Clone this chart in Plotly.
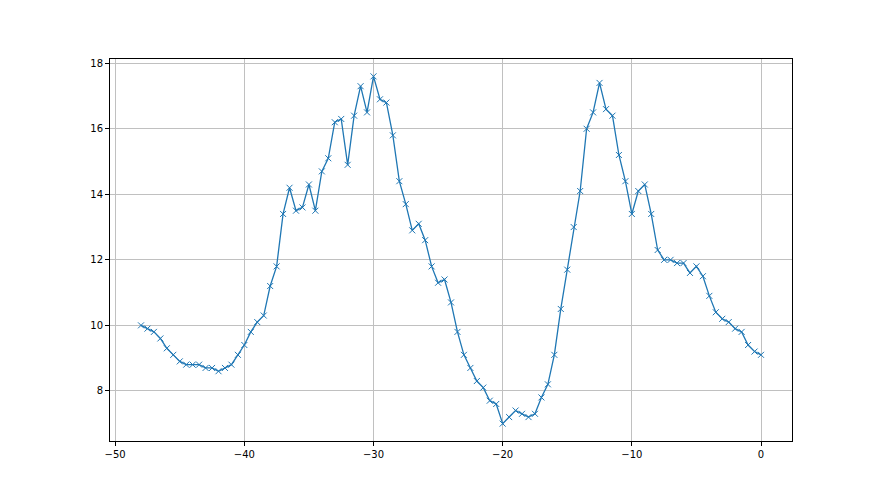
import numpy as np
import plotly.graph_objects as go

x_vals = np.arange(-48, 0.5, 0.5)
y_vals = [
    10.0, 9.9, 9.8, 9.6, 9.3, 9.1, 8.9, 8.8, 8.8, 8.8,
    8.7, 8.7, 8.6, 8.7, 8.8, 9.1, 9.4, 9.8, 10.1, 10.3,
    11.2, 11.8, 13.4, 14.2, 13.5, 13.6, 14.3, 13.5, 14.7, 15.1,
    16.2, 16.3, 14.9, 16.4, 17.3, 16.5, 17.6, 16.9, 16.8, 15.8,
    14.4, 13.7, 12.9, 13.1, 12.6, 11.8, 11.3, 11.4, 10.7, 9.8,
    9.1, 8.7, 8.3, 8.1, 7.7, 7.6, 7.0, 7.2, 7.4, 7.3,
    7.2, 7.3, 7.8, 8.2, 9.1, 10.5, 11.7, 13.0, 14.1, 16.0,
    16.5, 17.4, 16.6, 16.4, 15.2, 14.4, 13.4, 14.1, 14.3, 13.4,
    12.3, 12.0, 12.0, 11.9, 11.9, 11.6, 11.8, 11.5, 10.9, 10.4,
    10.2, 10.1, 9.9, 9.8, 9.4, 9.2, 9.1,
]
x_ticks = [-50, -40, -30, -20, -10, 0]
y_ticks = [8, 10, 12, 14, 16, 18]


def tick_text(vals):
    return [str(v).replace('-', '\u2212') for v in vals]


fig = go.Figure(go.Scatter(x=x_vals, y=y_vals,
                           mode='lines+markers',
                           line=dict(color='#1f77b4', width=1.3),
                           marker=dict(symbol='x-thin', size=6,
                                       line=dict(color='#1f77b4', width=1)),
                           showlegend=False))

axis_style = dict(showline=True, linecolor='black', linewidth=1, mirror=True,
                  ticks='outside', ticklen=4, tickcolor='black',
                  showgrid=True, gridcolor='#c0c0c0', gridwidth=1,
                  zeroline=False,
                  tickfont=dict(family='DejaVu Sans', size=10, color='black'))

x_span = x_vals.max() - x_vals.min()
y_span = max(y_vals) - min(y_vals)
fig.update_xaxes(range=[x_vals.min() - 0.05 * x_span, x_vals.max() + 0.05 * x_span],
                 tickvals=x_ticks, ticktext=tick_text(x_ticks), **axis_style)
fig.update_yaxes(range=[min(y_vals) - 0.05 * y_span, max(y_vals) + 0.05 * y_span],
                 tickvals=y_ticks, ticktext=tick_text(y_ticks), **axis_style)

# page body adds an 8px offset, so margins are shifted to compensate
fig.update_layout(width=880, height=495,
                  margin=dict(l=102, r=96, t=51, b=62),
                  paper_bgcolor='white', plot_bgcolor='white')

fig.write_html("out.html")
